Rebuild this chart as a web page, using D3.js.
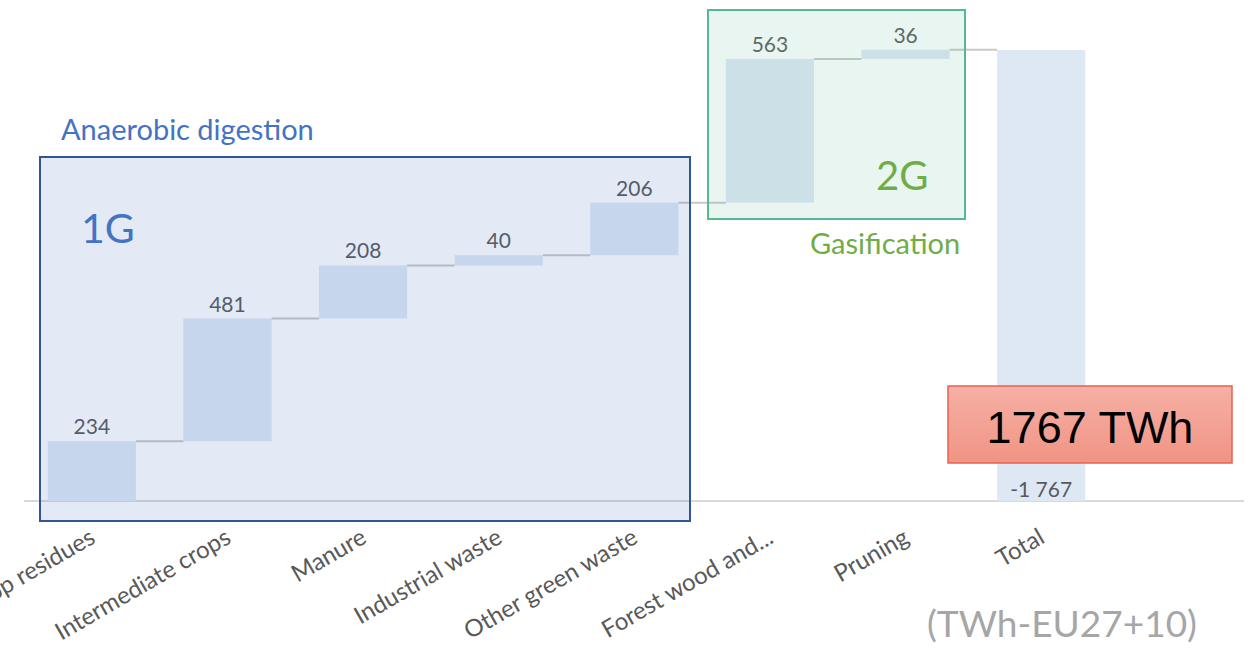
<!DOCTYPE html>
<html>
<head>
<meta charset="utf-8">
<script src="https://cdn.jsdelivr.net/npm/d3@7"></script>
<style>
  body { margin: 0; background: #fff; }
  svg { display: block; }
</style>
</head>
<body>
<script>
"use strict";

// data
const categories = ["Crop residues", "Intermediate crops", "Manure", "Industrial waste",
    "Other green waste", "Forest wood and...", "Pruning", "Total"];
const steps = [234, 481, 208, 40, 206, 563, 36];
const total = 1767;
const valueLabels = ["234", "481", "208", "40", "206", "563", "36", "-1 767"];

const W = 1256, H = 649;
const font = "Lato, 'Open Sans', sans-serif";

let svg = d3.select("body").append("svg")
    .attr("width", W)
    .attr("height", H);

let x = d3.scaleBand()
    .domain(categories)
    .range([24, 1109])
    .paddingInner(0.35)
    .paddingOuter(0.175);

let y = d3.scaleLinear()
    .domain([0, total])
    .range([501, 50]);

// build waterfall rows
let rows = [];
let run = 0;
steps.forEach(function (v, i) {
    rows.push({name: categories[i], start: run, end: run + v, label: valueLabels[i]});
    run += v;
});
rows.push({name: "Total", start: 0, end: total, label: valueLabels[7], total: true});

// baseline
svg.append("line")
    .attr("x1", 24).attr("x2", 1244)
    .attr("y1", y(0)).attr("y2", y(0))
    .attr("stroke", "#d9d9d9")
    .attr("stroke-width", 2);

// bars
svg.selectAll("rect.bar")
    .data(rows)
    .enter().append("rect")
    .attr("class", "bar")
    .attr("x", d => x(d.name))
    .attr("width", x.bandwidth())
    .attr("y", d => y(d.end))
    .attr("height", d => y(d.start) - y(d.end))
    .attr("fill", "#dde8f4");

// connectors between bars
svg.selectAll("line.conn")
    .data(rows.slice(0, -1))
    .enter().append("line")
    .attr("class", "conn")
    .attr("x1", d => x(d.name) + x.bandwidth())
    .attr("x2", (d, i) => x(rows[i + 1].name))
    .attr("y1", d => y(d.end))
    .attr("y2", d => y(d.end))
    .attr("stroke", "#c8c8c8")
    .attr("stroke-width", 2);

// value labels
svg.selectAll("text.val")
    .data(rows)
    .enter().append("text")
    .attr("class", "val")
    .attr("x", d => x(d.name) + x.bandwidth() / 2)
    .attr("y", d => d.total ? y(0) - 4 : y(d.end) - 7)
    .attr("text-anchor", "middle")
    .style("font-family", font)
    .style("font-size", "21px")
    .style("fill", "#595959")
    .text(d => d.label);

// category labels, rotated
svg.selectAll("text.cat")
    .data(categories)
    .enter().append("text")
    .attr("class", "cat")
    .attr("text-anchor", "end")
    .attr("transform", d => "translate(" + (x(d) + x.bandwidth() / 2 + 5) + ",542) rotate(-30)")
    .style("font-family", font)
    .style("font-size", "24px")
    .style("fill", "#595959")
    .text(d => d);

// anaerobic digestion box (drawn over bars, translucent)
svg.append("rect")
    .attr("x", 40).attr("y", 157)
    .attr("width", 650).attr("height", 364)
    .attr("fill", "rgba(68,114,196,0.15)")
    .attr("stroke", "#2f5597")
    .attr("stroke-width", 2);

svg.append("text")
    .attr("x", 61).attr("y", 140)
    .style("font-family", font)
    .style("font-size", "29px")
    .style("fill", "#4472c4")
    .text("Anaerobic digestion");

svg.append("text")
    .attr("x", 81).attr("y", 243)
    .style("font-family", font)
    .style("font-size", "41px")
    .style("fill", "#4472c4")
    .text("1G");

// gasification box
svg.append("rect")
    .attr("x", 708).attr("y", 10)
    .attr("width", 257).attr("height", 209)
    .attr("fill", "rgba(120,195,165,0.16)")
    .attr("stroke", "#55b88f")
    .attr("stroke-width", 2);

svg.append("text")
    .attr("x", 876).attr("y", 190)
    .style("font-family", font)
    .style("font-size", "40px")
    .style("fill", "#70ad47")
    .text("2G");

svg.append("text")
    .attr("x", 810).attr("y", 254)
    .style("font-family", font)
    .style("font-size", "29px")
    .style("fill", "#70ad47")
    .text("Gasification");

// total callout
let defs = svg.append("defs");
let grad = defs.append("linearGradient")
    .attr("id", "redgrad")
    .attr("x1", 0).attr("x2", 0).attr("y1", 0).attr("y2", 1);
grad.append("stop").attr("offset", "0%").attr("stop-color", "#f6b0a5");
grad.append("stop").attr("offset", "100%").attr("stop-color", "#f09484");

svg.append("rect")
    .attr("x", 948).attr("y", 386)
    .attr("width", 284).attr("height", 77)
    .attr("fill", "url(#redgrad)")
    .attr("stroke", "#e8624f")
    .attr("stroke-width", 1.5);

svg.append("text")
    .attr("x", 1090).attr("y", 443)
    .attr("text-anchor", "middle")
    .style("font-family", "'Liberation Sans', Arial, sans-serif")
    .style("font-size", "45px")
    .style("fill", "#000")
    .text("1767 TWh");

svg.append("text")
    .attr("x", 1062).attr("y", 637)
    .attr("text-anchor", "middle")
    .style("font-family", font)
    .style("font-size", "37px")
    .style("fill", "#a6a6a6")
    .text("(TWh-EU27+10)");
</script>
</body>
</html>
